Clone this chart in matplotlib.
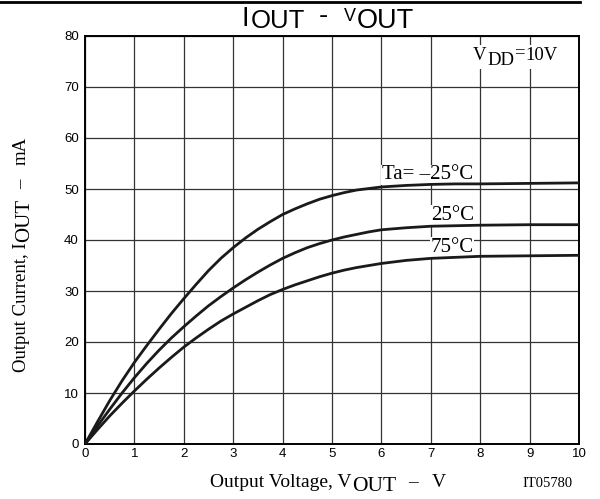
import matplotlib
matplotlib.use('Agg')
import matplotlib.pyplot as plt
from matplotlib.lines import Line2D
from matplotlib.patches import Rectangle

# Output voltage (V) and output current (mA) for each ambient temperature
vout = [0, 0.25, 0.5, 0.75, 1, 1.25, 1.5, 1.75, 2, 2.25, 2.5, 2.75, 3, 3.25, 3.5, 3.75, 4, 4.25, 4.5,
        4.75, 5, 5.25, 5.5, 5.75, 6, 6.5, 7, 7.5, 8, 9, 10]
iout_m25 = [0, 4.3, 8.5, 12.4, 16, 19.3, 22.5, 25.6, 28.5, 31.3, 34, 36.4, 38.5, 40.4, 42.1, 43.6, 45,
            46.1, 47.1, 48, 48.7, 49.3, 49.8, 50.1, 50.4, 50.7, 50.9, 51.0, 51.0, 51.1, 51.2]
iout_25 = [0, 3.5, 6.8, 10, 13, 15.8, 18.4, 20.8, 23, 25.1, 27.1, 28.9, 30.6, 32.2, 33.7, 35.1, 36.4,
           37.5, 38.5, 39.3, 40, 40.6, 41.1, 41.6, 42, 42.4, 42.7, 42.8, 42.9, 43, 43]
iout_75 = [0, 2.8, 5.5, 8, 10.4, 12.7, 14.9, 17, 19, 20.8, 22.5, 24.1, 25.5, 26.8, 28.1, 29.3, 30.3,
           31.2, 32, 32.8, 33.5, 34.1, 34.6, 35, 35.4, 36, 36.4, 36.6, 36.8, 36.9, 37]

xticks = list(range(0, 11))
yticks = list(range(0, 81, 10))

serif = 'Liberation Serif'
sans = 'Liberation Sans'

W, H = 600, 499
fig = plt.figure(figsize=(6, 4.99), dpi=100)
ax = fig.add_axes([85 / W, 1 - 444 / H, 494 / W, 408 / H])

for y in (iout_m25, iout_25, iout_75):
    ax.plot(vout, y, color='#1a1a1a', lw=2.0, solid_capstyle='round', zorder=3)

ax.set_xlim(0, 10)
ax.set_ylim(0, 80)
ax.set_xticks(xticks)
ax.set_yticks(yticks)
ax.grid(True, color='#333333', lw=0.9)
ax.tick_params(length=0, labelsize=9.5)
ax.tick_params(axis='y', pad=4.5)
ax.tick_params(axis='x', pad=3)
for lab in ax.get_xticklabels() + ax.get_yticklabels():
    lab.set_fontfamily(sans)
for s in ax.spines.values():
    s.set_linewidth(1.4)
    s.set_color('black')

box = dict(facecolor='white', edgecolor='none', pad=0.3)
ax.text(6.01, 51.9, 'Ta= \u201325\u00b0C', family=serif, fontsize=15,
        va='baseline', ha='left', bbox=box, zorder=2)
ax.text(7.0, 44.0, '25\u00b0C', family=serif, fontsize=15,
        va='baseline', ha='left', bbox=box, zorder=2)
ax.text(7.0, 37.7, '75\u00b0C', family=serif, fontsize=15,
        va='baseline', ha='left', bbox=box, zorder=2)

renderer = fig.canvas.get_renderer()


def chain(xpx, ypx, pieces, rotation=0, family=serif):
    # pieces: (text, size, drop_px, gap_before_px)
    offset = 0
    for s, size, drop, gap in pieces:
        offset += gap
        if rotation == 0:
            x, y = xpx + offset, ypx + drop
        else:
            x, y = xpx + drop, ypx - offset
        t = fig.text(x / W, 1 - y / H, s, fontsize=size, family=family, rotation=rotation,
                     rotation_mode='anchor', ha='left', va='baseline', zorder=5)
        bb = t.get_window_extent(renderer)
        offset += bb.width if rotation == 0 else bb.height


# title
chain(242, 26, [('I', 19.5, 0, 0), ('OUT', 18.5, 2, 1)], family=sans)
chain(319, 23, [('-', 20, 0, 0)], family=sans)
chain(344, 21, [('V', 13, 0, 0), ('OUT', 19.5, 7, 1)], family=sans)

# VDD label on a white patch that hides the gridlines
fig.add_artist(Rectangle((470 / W, 1 - 69 / H), 98 / W, 24 / H, transform=fig.transFigure,
                         facecolor='white', edgecolor='none', zorder=4))
chain(473, 60, [('V', 13.5, 0, 0), ('DD', 13.5, 5, 0.5), ('=', 13.5, -3, 0.5), ('10V', 13.5, 0, 0.5)])
# x label
chain(210, 487, [('Output Voltage, V', 14, 0, 0), ('OUT', 15.5, 4, 0.5),
                 ('\u2013', 14, 0, 12), ('V', 14, 0, 14)])
# y label
chain(26, 372, [('Output Current, I', 13.5, 0, 0), ('OUT', 15, 3, 0.5),
                ('\u2013', 13.5, 0, 10), ('mA', 13.5, 0, 14)], rotation=90)

fig.text(522 / W, 1 - 487 / H, 'IT05780', family=serif, fontsize=10.5)

fig.add_artist(Line2D([0, 580 / W], [1 - 2 / H, 1 - 2 / H], transform=fig.transFigure,
                      color='black', lw=2))

fig.savefig('out.png', dpi=100)
